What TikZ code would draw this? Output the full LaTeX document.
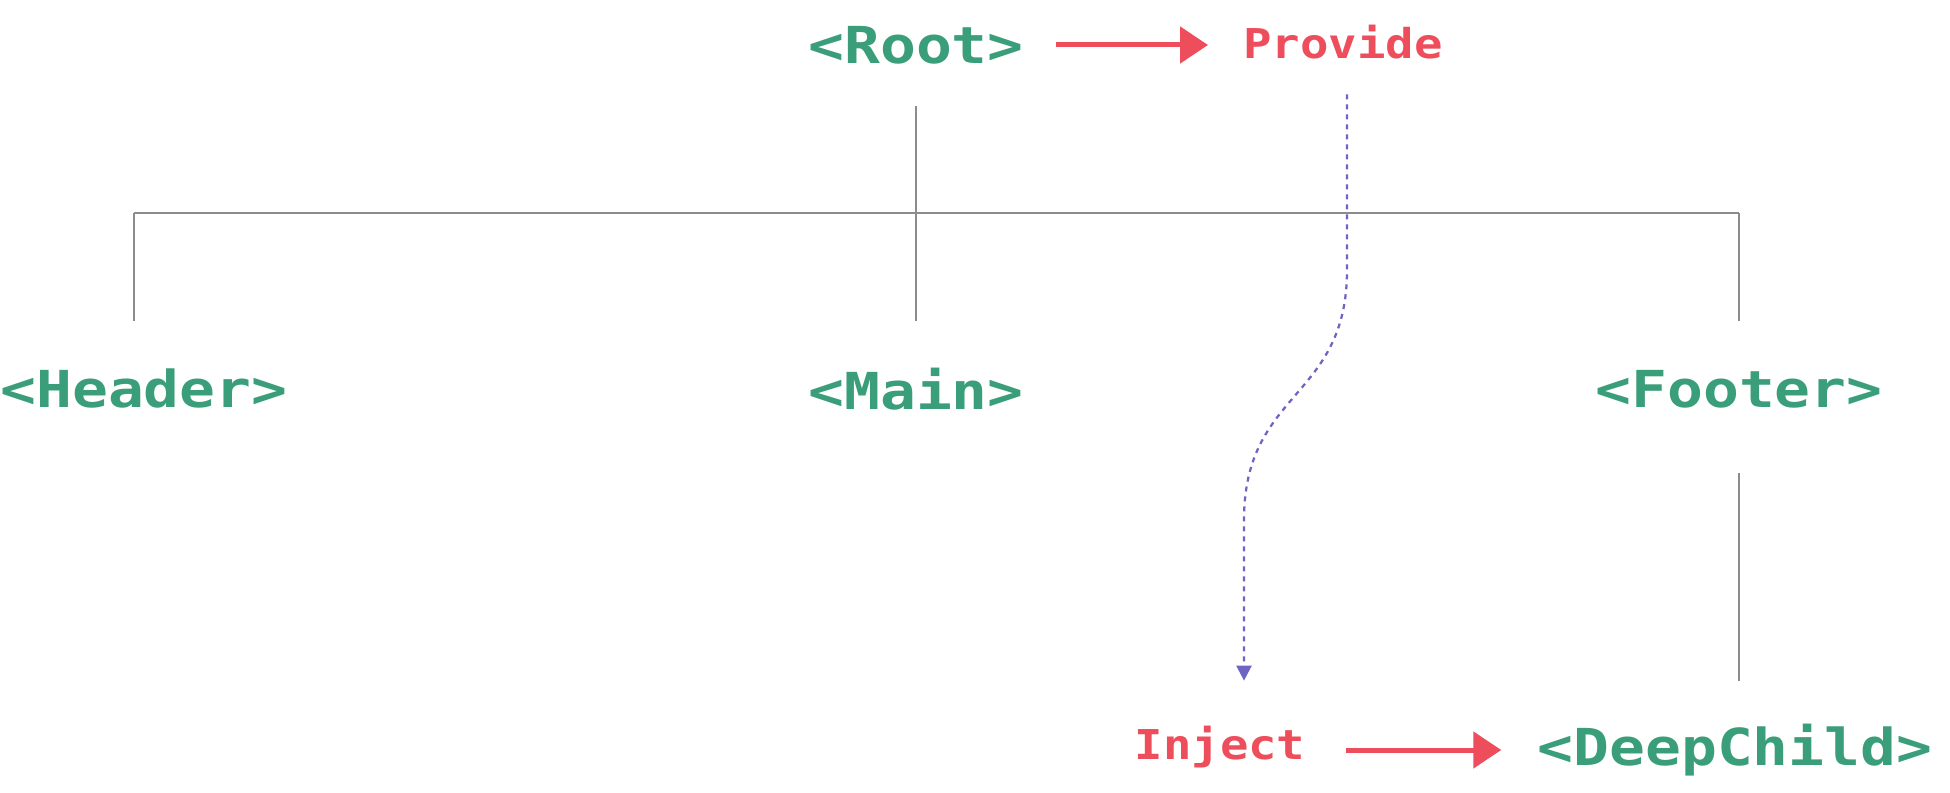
\documentclass[tikz,border=0pt]{standalone}
\usepackage{graphicx}
\usepackage{fontspec}
\setmonofont{DejaVu Sans Mono}
\usetikzlibrary{arrows.meta}
\definecolor{vuegreen}{RGB}{58,158,122}
\definecolor{hookred}{RGB}{238,78,92}
\definecolor{flowblue}{RGB}{110,100,196}
\definecolor{treegray}{RGB}{140,140,140}
\newcommand{\compname}[1]{\scalebox{1.17}[1]{#1}}
\newcommand{\hookname}[1]{\scalebox{1.15}[1]{#1}}
\tikzset{
  comp/.style={font=\ttfamily\bfseries\fontsize{29}{34}\selectfont, text=vuegreen,
    inner sep=0pt, minimum height=1.2cm},
  hook/.style={font=\ttfamily\bfseries\fontsize{23.4}{28}\selectfont, text=hookred,
    inner sep=0pt, minimum height=1.2cm},
  treeline/.style={draw=treegray, line width=0.04cm},
  hookarrow/.style={draw=hookred, line width=0.1cm, -{Triangle[length=0.56cm,width=0.72cm]}},
  flow/.style={draw=flowblue, line width=0.045cm, dash pattern=on 0.1cm off 0.1cm,
    -{Triangle[length=0.3cm,width=0.3cm]}}
}
\begin{document}
\begin{tikzpicture}[x=0.02cm, y=-0.02cm]
  \useasboundingbox[fill=white] (0,0) rectangle (1950,793);
  % components and hooks
  \node[comp] (root) at (916,45) {\compname{<Root>}};
  \node[hook] (provide) at (1343,42) {\hookname{Provide}};
  \node[comp] (header) at (144,389) {\compname{<Header>}};
  \node[comp] (main) at (916,389) {\compname{<Main>}};
  \node[comp] (footer) at (1739,389) {\compname{<Footer>}};
  \node[hook] (inject) at (1220,747) {\hookname{Inject}};
  \node[comp] (deepchild) at (1735,750) {\compname{<DeepChild>}};
  % tree
  \coordinate (bar) at (916,213);
  \coordinate (bar-l) at (134,213);
  \coordinate (bar-r) at (1739,213);
  \coordinate (main-top) at ([yshift=0.76cm]main.north);
  \coordinate (footer-low) at ([yshift=-1.08cm]footer.south);
  \coordinate (deep-top) at ([yshift=0.78cm]deepchild.north);
  \draw[treeline] ([yshift=-0.62cm]root.south) -- (bar);
  \draw[treeline] (bar-l) -- (bar-r);
  \draw[treeline] (bar-l) -- (bar-l |- main-top);
  \draw[treeline] (bar) -- (main-top);
  \draw[treeline] (bar-r) -- (bar-r |- main-top);
  \draw[treeline] (footer-low -| bar-r) -- (deep-top -| bar-r);
  % provide / inject
  \draw[hookarrow] ([xshift=0.64cm]root.east) -- ([xshift=-0.7cm]provide.west |- root.east);
  \draw[hookarrow] ([xshift=0.8cm]inject.east |- deepchild.west) -- ([xshift=-0.72cm]deepchild.west);
  \coordinate (bend-top) at (1347,270);
  \coordinate (bend-low) at (1244,520);
  \coordinate (inject-top) at ([yshift=0.72cm]inject.north);
  \draw[flow] (provide.south -| bend-top) ++(0,22) -- (bend-top)
    .. controls (1347,400) and (1244,390) .. (bend-low) -- (bend-low |- inject-top);
\end{tikzpicture}
\end{document}
